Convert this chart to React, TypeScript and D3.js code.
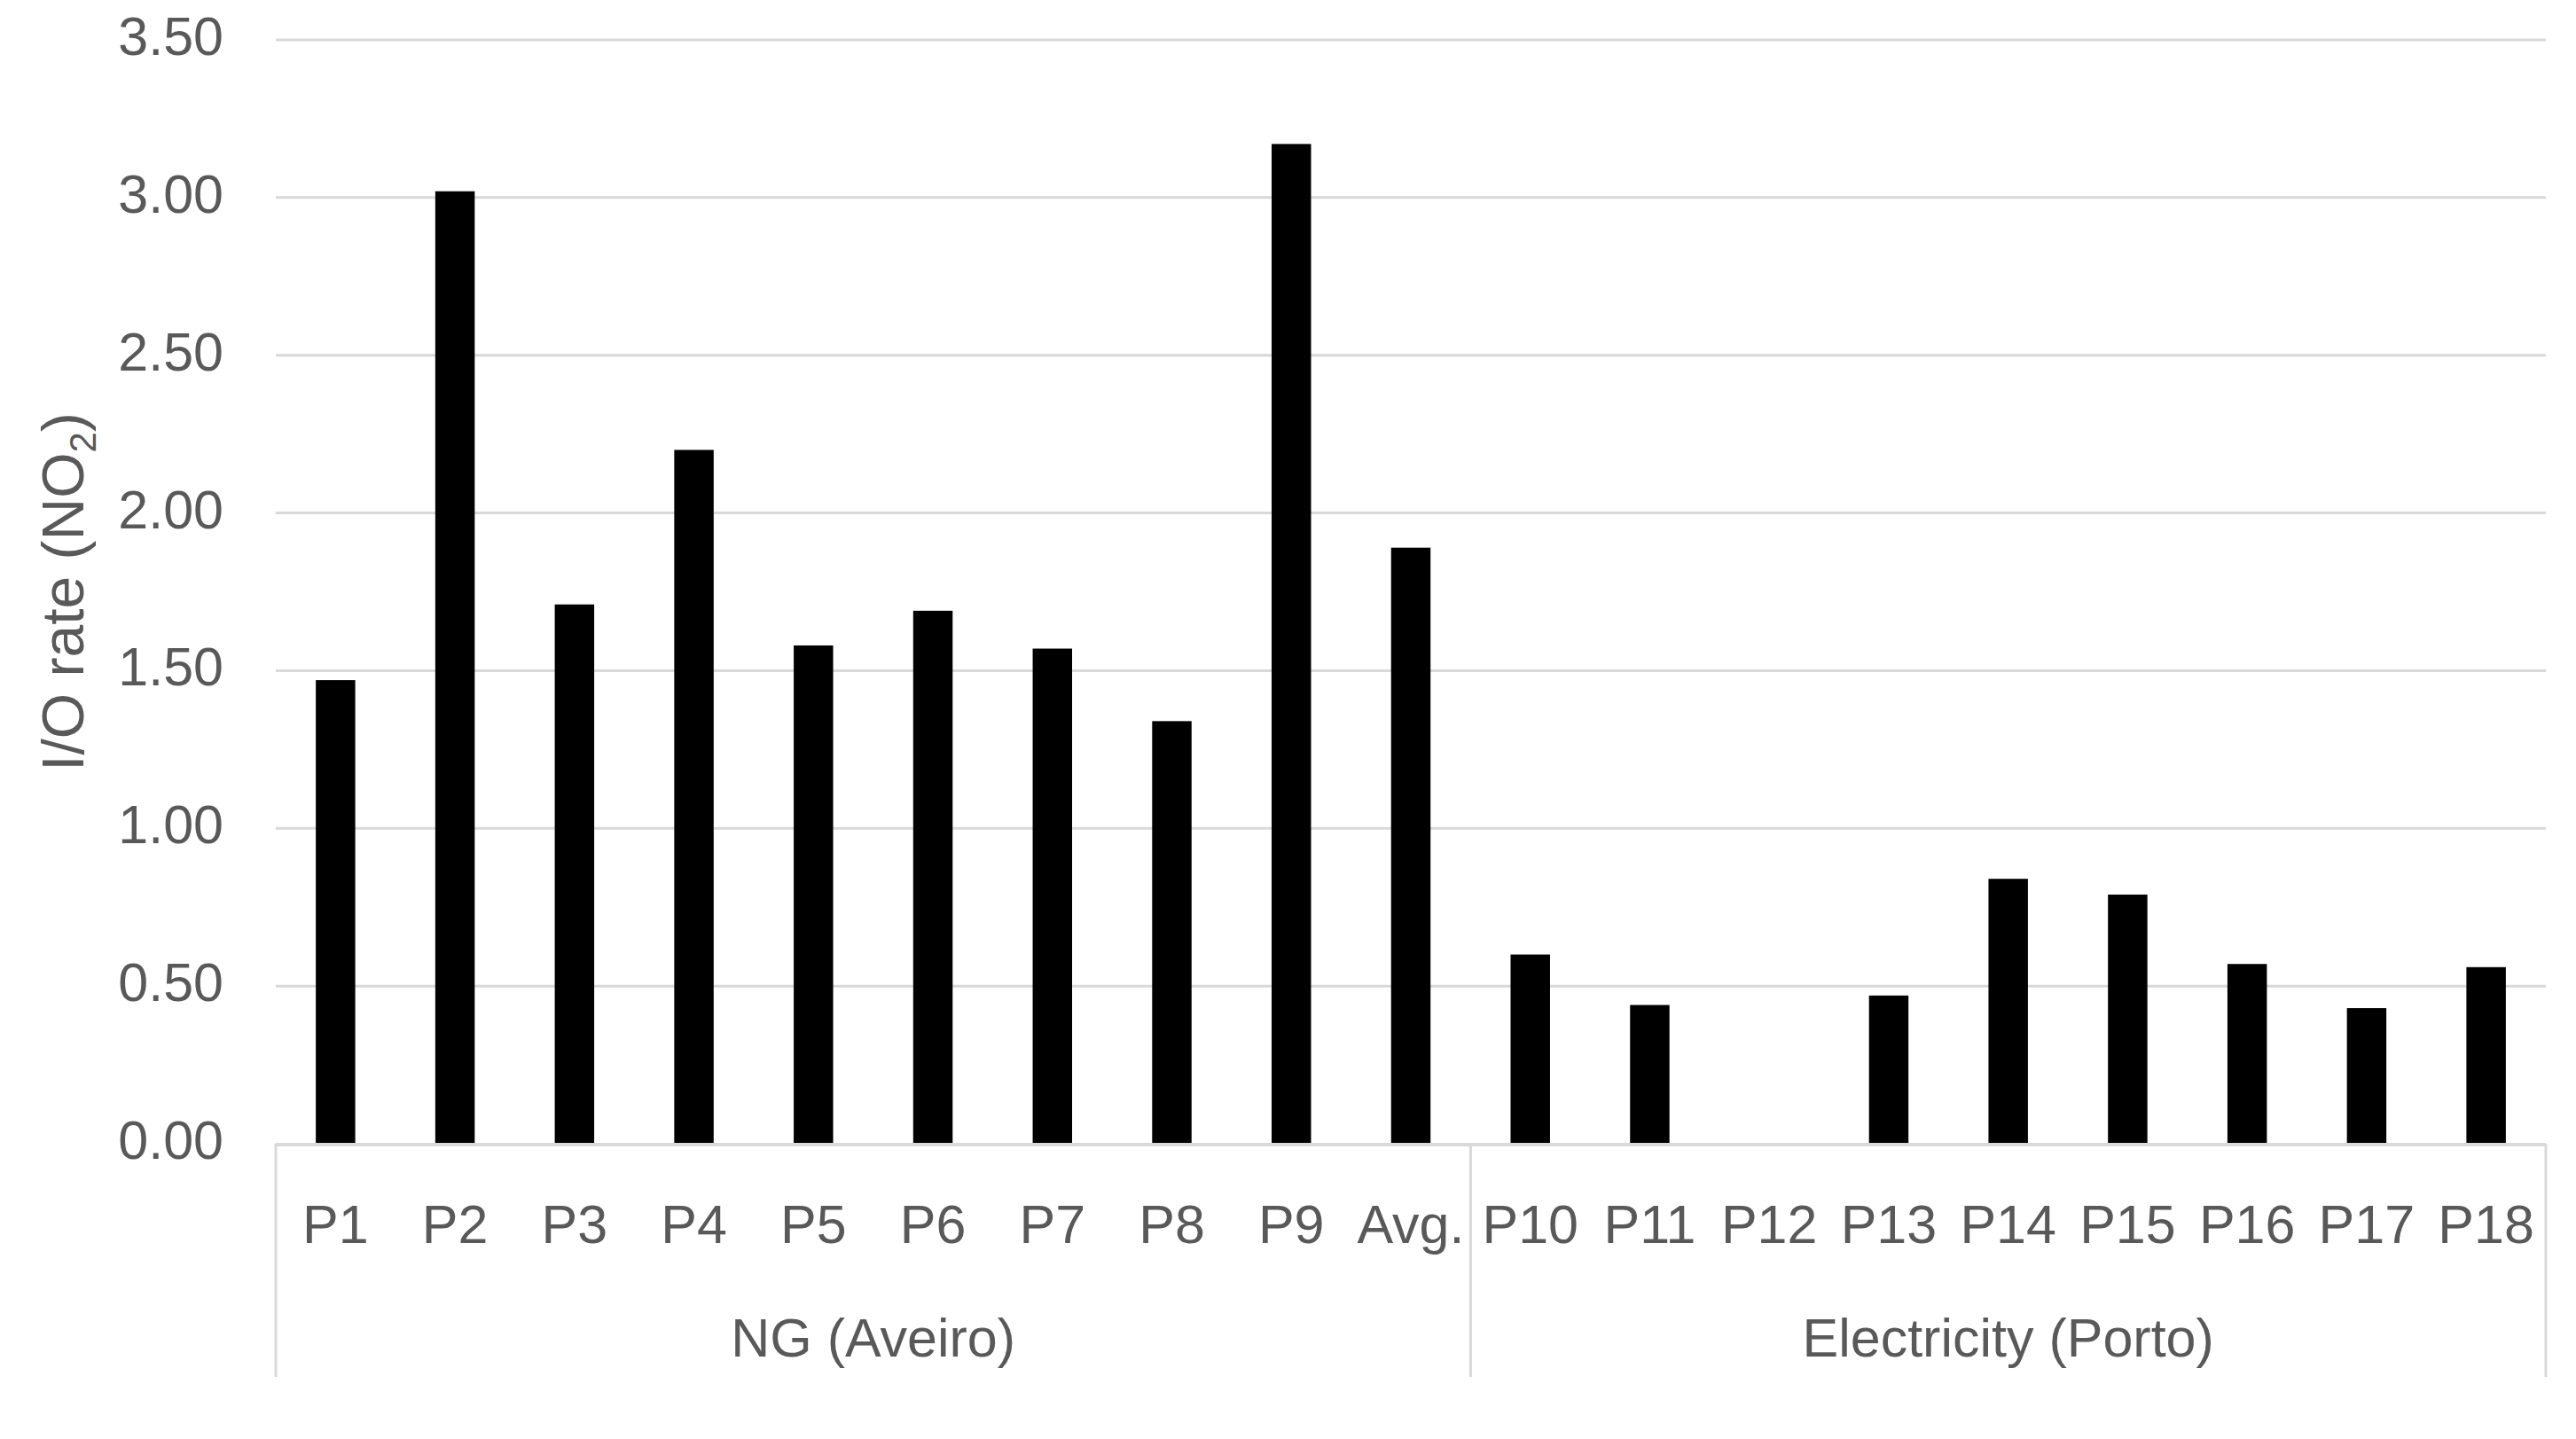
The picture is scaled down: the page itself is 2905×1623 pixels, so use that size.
import React, { useRef, useEffect } from "react";
import * as d3 from "d3";

const categories = ["P1", "P2", "P3", "P4", "P5", "P6", "P7", "P8", "P9", "Avg.", "P10", "P11", "P12", "P13", "P14", "P15", "P16", "P17", "P18"];
const ioRate = [1.47, 3.02, 1.71, 2.2, 1.58, 1.69, 1.57, 1.34, 3.17, 1.89, 0.6, 0.44, 0, 0.47, 0.84, 0.79, 0.57, 0.43, 0.56];
const groups = [
  { name: "NG (Aveiro)", first: "P1", last: "Avg." },
  { name: "Electricity (Porto)", first: "P10", last: "P18" },
];
const yTicks = [0, 0.5, 1, 1.5, 2, 2.5, 3, 3.5];

const App = () => {
  const svgRef = useRef(null);

  useEffect(() => {
    document.body.style.margin = "0";
    const svg = d3.select(svgRef.current);
    const width = 2905;
    const height = 1623;
    const left = 311;
    const right = 2871;
    const top = 45;
    const bottom = 1290;
    const font = "'Liberation Sans', Arial, sans-serif";
    const textColor = "#595959";
    const gridColor = "#d9d9d9";

    svg.attr("width", width).attr("height", height);

    const x = d3.scaleBand().domain(categories).range([left, right]).paddingInner(0.67).paddingOuter(0.335);
    const y = d3.scaleLinear().domain([0, 3.5]).range([bottom, top]);

    // gridlines
    svg
      .append("g")
      .selectAll("line")
      .data(yTicks.filter((t) => t > 0))
      .enter()
      .append("line")
      .attr("x1", left)
      .attr("x2", right)
      .attr("y1", (d) => y(d))
      .attr("y2", (d) => y(d))
      .attr("stroke", gridColor)
      .attr("stroke-width", 3);

    // y tick labels
    svg
      .append("g")
      .selectAll("text")
      .data(yTicks)
      .enter()
      .append("text")
      .attr("x", 252)
      .attr("y", (d) => y(d) + 17)
      .attr("text-anchor", "end")
      .attr("font-family", font)
      .attr("font-size", 61)
      .attr("fill", textColor)
      .text((d) => d3.format(".2f")(d));

    // bars
    svg
      .append("g")
      .selectAll("rect")
      .data(categories.map((c, i) => ({ c, v: ioRate[i] })))
      .enter()
      .append("rect")
      .attr("x", (d) => x(d.c))
      .attr("y", (d) => y(d.v))
      .attr("width", x.bandwidth())
      .attr("height", (d) => y(0) - y(d.v))
      .attr("fill", "#000");

    // baseline
    svg
      .append("line")
      .attr("x1", left)
      .attr("x2", right)
      .attr("y1", y(0) + 1)
      .attr("y2", y(0) + 1)
      .attr("stroke", gridColor)
      .attr("stroke-width", 4);

    // category labels
    svg
      .append("g")
      .selectAll("text")
      .data(categories)
      .enter()
      .append("text")
      .attr("x", (d) => x(d) + x.bandwidth() / 2)
      .attr("y", 1402)
      .attr("text-anchor", "middle")
      .attr("font-family", font)
      .attr("font-size", 61)
      .attr("fill", textColor)
      .text((d) => d);

    // group separators and labels
    const step = x.step();
    const bounds = groups.map((g) => [x(g.first) - (step - x.bandwidth()) / 2, x(g.last) + x.bandwidth() + (step - x.bandwidth()) / 2]);
    const seps = Array.from(new Set(bounds.flat().map((v) => Math.round(v * 10) / 10)));
    svg
      .append("g")
      .selectAll("line")
      .data(seps)
      .enter()
      .append("line")
      .attr("x1", (d) => d)
      .attr("x2", (d) => d)
      .attr("y1", y(0))
      .attr("y2", 1553)
      .attr("stroke", gridColor)
      .attr("stroke-width", 3);

    svg
      .append("g")
      .selectAll("text")
      .data(groups)
      .enter()
      .append("text")
      .attr("x", (d, i) => (bounds[i][0] + bounds[i][1]) / 2)
      .attr("y", 1530)
      .attr("text-anchor", "middle")
      .attr("font-family", font)
      .attr("font-size", 61)
      .attr("fill", textColor)
      .text((d) => d.name);

    // y axis title
    const title = svg
      .append("text")
      .attr("transform", `translate(94, ${(top + bottom) / 2}) rotate(-90)`)
      .attr("text-anchor", "middle")
      .attr("font-family", font)
      .attr("font-size", 66)
      .attr("fill", textColor);
    title.append("tspan").text("I/O rate (NO");
    title.append("tspan").attr("font-size", 42).attr("dy", 14).text("2");
    title.append("tspan").attr("dy", -14).text(")");

    return () => {
      svg.selectAll("*").remove();
    };
  }, []);

  return <svg ref={svgRef} style={{ display: "block" }} />;
};

export default App;
